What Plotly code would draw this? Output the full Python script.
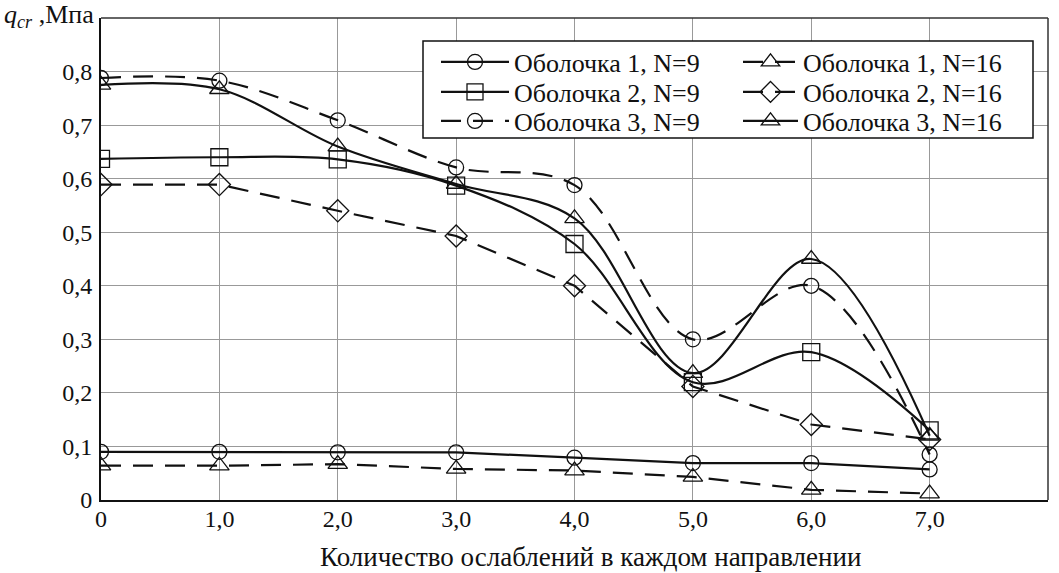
import plotly.graph_objects as go

x_vals = [0, 1, 2, 3, 4, 5, 6, 7]

s1_n9 = [0.090, 0.090, 0.089, 0.089, 0.079, 0.069, 0.069, 0.057]
s1_n16 = [0.064, 0.064, 0.067, 0.058, 0.055, 0.043, 0.019, 0.012]
s2_n9 = [0.637, 0.640, 0.636, 0.587, 0.478, 0.220, 0.276, 0.130]
s2_n16 = [0.589, 0.589, 0.540, 0.493, 0.400, 0.212, 0.141, 0.113]
s3_n9 = [0.788, 0.783, 0.709, 0.621, 0.588, 0.300, 0.400, 0.085]
s3_n16 = [0.775, 0.767, 0.660, 0.590, 0.526, 0.237, 0.450, 0.120]

names = {
    "s1_n9": "Оболочка 1, N=9",
    "s2_n9": "Оболочка 2, N=9",
    "s3_n9": "Оболочка 3, N=9",
    "s1_n16": "Оболочка 1, N=16",
    "s2_n16": "Оболочка 2, N=16",
    "s3_n16": "Оболочка 3, N=16",
}

x_ticks = [0, 1, 2, 3, 4, 5, 6, 7, 8]
x_ticktext = ["0", "1,0", "2,0", "3,0", "4,0", "5,0", "6,0", "7,0", "8,0"]
y_ticks = [0, 0.1, 0.2, 0.3, 0.4, 0.5, 0.6, 0.7, 0.8]
y_ticktext = ["0", "0,1", "0,2", "0,3", "0,4", "0,5", "0,6", "0,7", "0,8"]

FONT = "Liberation Serif, Times New Roman, serif"
INK = "#111111"
DASH = "20px,12px"
LW = 2.2

# plot-area geometry in pixels (for placing the legend box / entries)
L, R, T, B = 101, 1048, 18, 500
PW, PH = R - L, B - T

def px_x(p):
    return (p - L) / PW

def px_y(p):
    return (B - p) / PH

def trace(y, name, symbol, size, dash, shape, legend):
    return go.Scatter(
        x=x_vals, y=y, name=name, mode="lines+markers",
        line=dict(color=INK, width=LW, dash=dash, shape=shape, smoothing=1.0),
        marker=dict(symbol=symbol, size=size, color=INK, line=dict(width=1.3, color=INK)),
        legend=legend,
    )

fig = go.Figure()
fig.add_trace(trace(s1_n9, names["s1_n9"], "circle-open", 15, "solid", "linear", "legend"))
fig.add_trace(trace(s2_n9, names["s2_n9"], "square-open", 17, "solid", "spline", "legend2"))
fig.add_trace(trace(s3_n9, names["s3_n9"], "circle-open", 15, DASH, "spline", "legend3"))
fig.add_trace(trace(s1_n16, names["s1_n16"], "triangle-up-open", 17, DASH, "linear", "legend4"))
fig.add_trace(trace(s2_n16, names["s2_n16"], "diamond-open", 17, DASH, "linear", "legend5"))
fig.add_trace(trace(s3_n16, names["s3_n16"], "triangle-up-open", 17, "solid", "spline", "legend6"))

def leg(xp, yp, iw):
    return dict(
        font=dict(family=FONT, size=26, color=INK),
        bgcolor="rgba(0,0,0,0)", borderwidth=0,
        x=px_x(xp), y=px_y(yp), xanchor="left", yanchor="middle",
        itemwidth=iw, itemclick=False, itemdoubleclick=False,
    )

rows = [62, 92, 121]
fig.update_layout(
    width=1059, height=573, autosize=False,
    margin=dict(l=L, r=1059 - R, t=T, b=573 - B),
    paper_bgcolor="white", plot_bgcolor="white",
    font=dict(family=FONT, size=23, color=INK),
    showlegend=True,
    legend=leg(436, rows[0], 68),
    legend2=leg(436, rows[1], 68),
    legend3=leg(436, rows[2], 68),
    legend4=leg(738, rows[0], 55),
    legend5=leg(738, rows[1], 55),
    legend6=leg(738, rows[2], 55),
    xaxis=dict(
        range=[0, 8], tickvals=x_ticks, ticktext=x_ticktext,
        showgrid=True, gridcolor="#999999", gridwidth=1,
        showline=True, linecolor=INK, linewidth=2, zeroline=False,
        ticks="", ticklabelstandoff=-4,
        tickfont=dict(family=FONT, size=24, color=INK),
    ),
    yaxis=dict(
        range=[0, 0.9], tickvals=y_ticks, ticktext=y_ticktext,
        showgrid=True, gridcolor="#999999", gridwidth=1,
        showline=True, linecolor=INK, linewidth=2, zeroline=False,
        ticks="", ticklabelstandoff=2,
        tickfont=dict(family=FONT, size=24, color=INK),
    ),
)

# frame top and right
fig.add_shape(type="line", xref="x domain", yref="y domain", x0=0, x1=1, y0=1, y1=1,
              line=dict(color="#333333", width=1.3))
fig.add_shape(type="line", xref="x domain", yref="y domain", x0=1, x1=1, y0=0, y1=1,
              line=dict(color="#333333", width=1.5))
# legend box
fig.add_shape(type="rect", xref="paper", yref="paper",
              x0=px_x(423), x1=px_x(1033), y0=px_y(138), y1=px_y(41),
              line=dict(color=INK, width=1.5), fillcolor="white", layer="above")

fig.add_annotation(
    text="<i>q</i><sub><i>cr</i></sub> ,Мпа", xref="paper", yref="paper",
    x=0, y=1, xanchor="right", yanchor="middle", xshift=-5, yshift=2,
    showarrow=False, font=dict(family=FONT, size=26, color=INK),
)
fig.add_annotation(
    text="Количество ослаблений в каждом направлении", xref="paper", yref="paper",
    x=px_x(590), y=px_y(557), xanchor="center", yanchor="middle",
    showarrow=False, font=dict(family=FONT, size=27, color=INK),
)

fig.write_html("out.html")
